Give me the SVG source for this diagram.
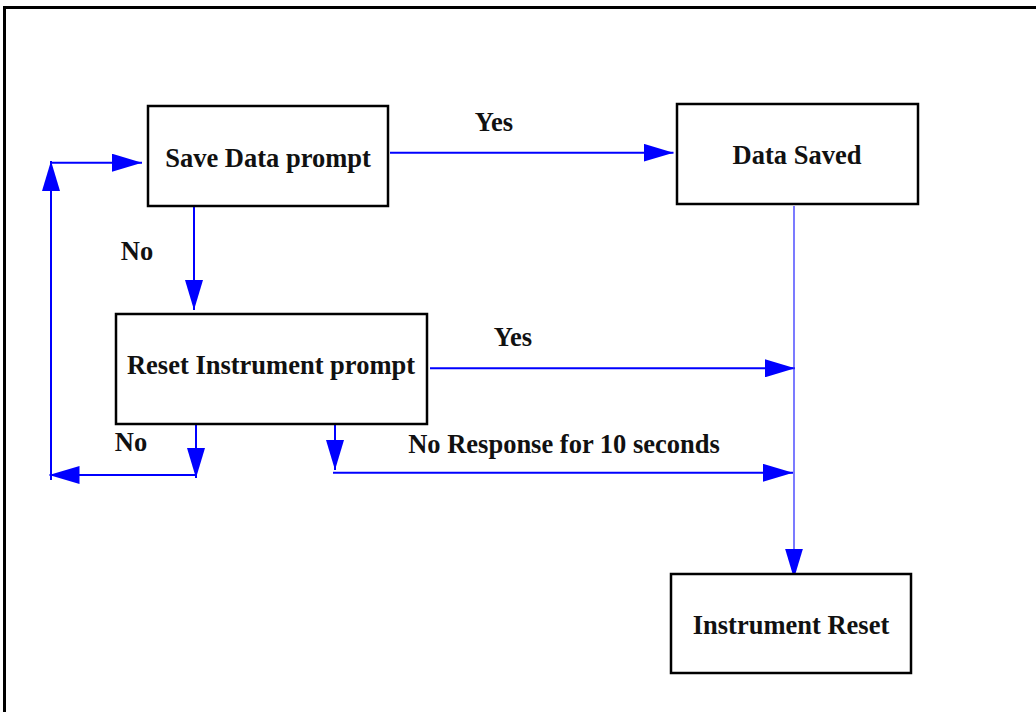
<svg xmlns="http://www.w3.org/2000/svg" width="1036" height="712" viewBox="0 0 1036 712">
<style>
.box{fill:#fff;stroke:#000;stroke-width:2.5}
.t{font-family:"Liberation Serif","Times New Roman",serif;font-weight:bold;font-size:26.5px;fill:#111}
.c{fill:none;stroke:#0000ff;stroke-width:2}
.thin{fill:none;stroke:#3333ff;stroke-width:1.3}
</style>
<defs>
<marker id="ah" markerUnits="userSpaceOnUse" markerWidth="30" markerHeight="18" viewBox="0 0 30 18" refX="30" refY="9" orient="auto">
<path d="M0,0 L30,9 L0,18 z" fill="#0000ff"/>
</marker>
</defs>
<rect width="1036" height="712" fill="#fff"/>
<path d="M4.5,712 V7.5 H1036" fill="none" stroke="#000" stroke-width="3"/>
<g id="connectors">
<path class="c" d="M390,152.7 H673.5" marker-end="url(#ah)"/>
<path class="c" d="M51,480 V161" marker-end="url(#ah)"/>
<path class="c" d="M52,162.7 H142" marker-end="url(#ah)"/>
<path class="c" d="M194,205 V310" marker-end="url(#ah)"/>
<path class="c" d="M196,424 V478"  marker-end="url(#ah)"/>
<path class="c" d="M196,475 H49.5" marker-end="url(#ah)"/>
<path class="c" d="M335,422 V470" marker-end="url(#ah)"/>
<path class="c" d="M333,472.8 H793" marker-end="url(#ah)"/>
<path class="c" d="M430,368.3 H795" marker-end="url(#ah)"/>
<path class="thin" d="M794,206 V578.5" marker-end="url(#ah)"/>
<text class="t" x="494" y="131" text-anchor="middle">Yes</text>
<text class="t" x="137" y="260" text-anchor="middle">No</text>
<text class="t" x="513" y="346" text-anchor="middle">Yes</text>
<text class="t" x="131" y="451" text-anchor="middle">No</text>
<text class="t" x="564" y="453" text-anchor="middle">No Response for 10 seconds</text>
</g>
<g id="save-data-prompt">
<rect class="box" x="148" y="106" width="240" height="100"/>
<text class="t" x="268" y="167" text-anchor="middle">Save Data prompt</text>
</g>
<g id="data-saved">
<rect class="box" x="677" y="104" width="241" height="100"/>
<text class="t" x="797" y="164" text-anchor="middle">Data Saved</text>
</g>
<g id="reset-instrument-prompt">
<rect class="box" x="116" y="314" width="311" height="110"/>
<text class="t" x="271" y="374" text-anchor="middle">Reset Instrument prompt</text>
</g>
<g id="instrument-reset">
<rect class="box" x="671" y="574" width="240" height="99"/>
<text class="t" x="791" y="634" text-anchor="middle">Instrument Reset</text>
</g>
</svg>
